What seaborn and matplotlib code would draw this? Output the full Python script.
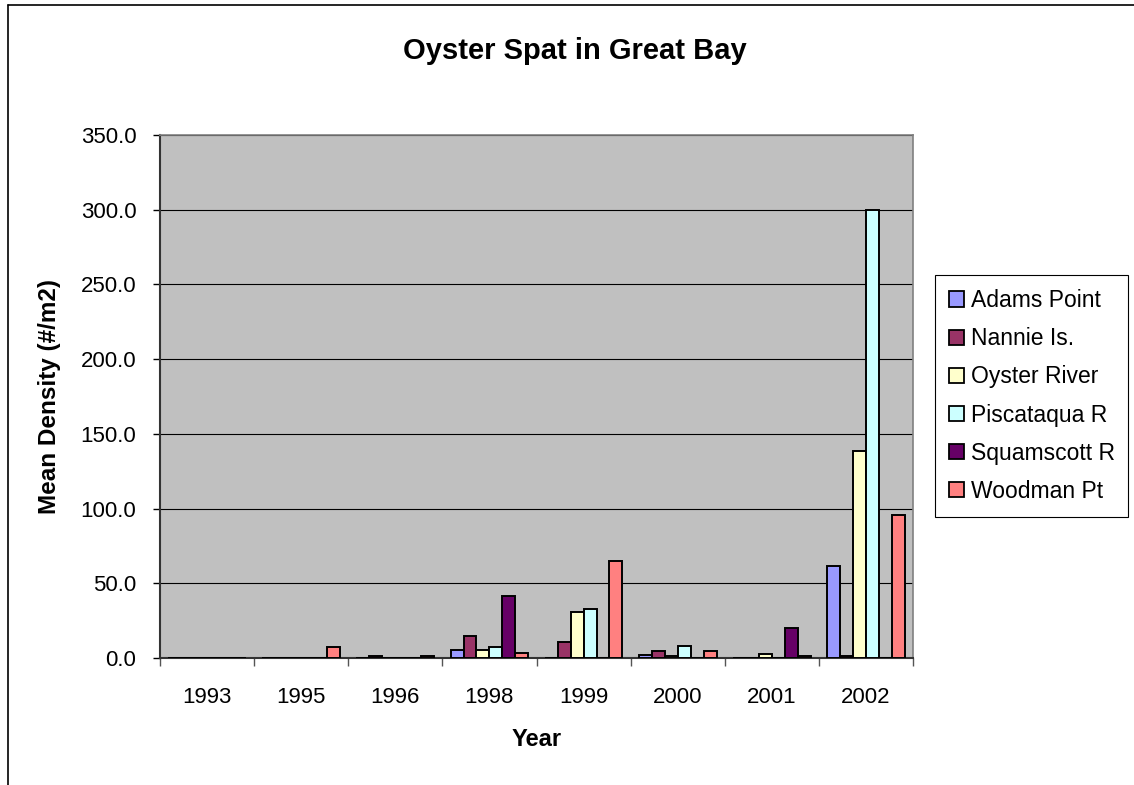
import matplotlib
matplotlib.use("Agg")
import matplotlib.pyplot as plt
from matplotlib.patches import Patch
from matplotlib.lines import Line2D
import seaborn as sns
import pandas as pd
import numpy as np

years = ['1993', '1995', '1996', '1998', '1999', '2000', '2001', '2002']
sites = ['Adams Point', 'Nannie Is.', 'Oyster River', 'Piscataqua R', 'Squamscott R', 'Woodman Pt']
adams_point = [0, 0, 0, 5.1, 0, 2.2, 0, 61.5]
nannie_is = [0, 0, 1.2, 14.5, 10.4, 4.9, 0, 1.2]
oyster_river = [0, 0, 0, 5.1, 30.5, 1.2, 2.5, 138.6]
piscataqua_r = [0, 0, 0, 7.4, 33.0, 7.8, 0, 300.0]
squamscott_r = [0, 0, 0, 41.2, 0, 0, 19.8, 0]
woodman_pt = [0, 7.4, 1.2, 3.5, 65.0, 5.0, 1.2, 95.6]
colors = ['#9999FF', '#993366', '#FFFFCC', '#CCFFFF', '#660066', '#FF8080']

series = [adams_point, nannie_is, oyster_river, piscataqua_r, squamscott_r, woodman_pt]
rows = []
for s, vals in zip(sites, series):
    for y, v in zip(years, vals):
        rows.append({'Year': y, 'Site': s, 'Density': v})
df = pd.DataFrame(rows)

sns.set_theme(style='white')
plt.rcParams['font.family'] = ['Liberation Sans', 'DejaVu Sans']
plt.rcParams['text.color'] = 'black'
plt.rcParams['axes.labelcolor'] = 'black'
plt.rcParams['xtick.color'] = 'black'
plt.rcParams['ytick.color'] = 'black'

W, H = 1134, 785
fig = plt.figure(figsize=(W / 100, H / 100), dpi=100)
ax = fig.add_axes([160 / W, 1 - 658 / H, (913 - 160) / W, (658 - 135) / H])
ax.set_facecolor('#C0C0C0')

sns.barplot(data=df, x='Year', y='Density', hue='Site', order=years, hue_order=sites,
            palette=colors, saturation=1, width=0.825, edgecolor='black', linewidth=1.4,
            ax=ax, legend=False, zorder=3)

ax.set_ylim(0, 350)
ax.set_xlim(-0.5, len(years) - 0.5)
ax.set_yticks(np.arange(0, 351, 50))
ax.set_yticklabels([f'{v:.1f}' for v in np.arange(0, 351, 50)])
ax.yaxis.grid(True, color='black', linewidth=0.8, zorder=0)
ax.set_axisbelow(True)

ax.tick_params(axis='y', which='major', direction='out', length=5, width=1, color='black',
               labelsize=16, labelcolor='black', pad=12, left=True)
ax.tick_params(axis='x', which='major', length=0, labelsize=16, labelcolor='black', pad=21)
ax.set_xticks(np.arange(-0.5, len(years), 1.0), minor=True)
ax.tick_params(axis='x', which='minor', direction='out', length=6, width=1, color='#555555', bottom=True)

for side in ['top', 'right']:
    ax.spines[side].set_color('#808080')
    ax.spines[side].set_linewidth(1.2)
for side in ['left', 'bottom']:
    ax.spines[side].set_color('#333333')
    ax.spines[side].set_linewidth(1.5)

ax.set_xlabel('Year', fontsize=17, fontweight='bold', labelpad=14, color='black')
ax.set_ylabel('Mean Density (#/m2)', fontsize=17.5, fontweight='bold', labelpad=14, color='black')
fig.text(575 / W, 1 - 51 / H, 'Oyster Spat in Great Bay', fontsize=21, fontweight='bold',
         ha='center', va='center', color='black')

handles = [Patch(facecolor=c, edgecolor='black', linewidth=1.3) for c in colors]
leg = fig.legend(handles, sites, loc='center left', bbox_to_anchor=(935 / W, 1 - 396 / H),
                 bbox_transform=fig.transFigure, fontsize=16.5, frameon=True, fancybox=False,
                 edgecolor='black', framealpha=1, handlelength=0.65, handleheight=0.65,
                 handletextpad=0.3, labelspacing=0.66, borderpad=0.6, borderaxespad=0)
leg.get_frame().set_linewidth(0.8)
for t in leg.get_texts():
    t.set_color('black')

# outer chart border
fig.add_artist(Line2D([8 / W, 1.0], [1 - 5 / H, 1 - 5 / H], transform=fig.transFigure,
                      color='black', linewidth=1.2))
fig.add_artist(Line2D([8 / W, 8 / W], [1 - 5 / H, 0.0], transform=fig.transFigure,
                      color='black', linewidth=1.2))

fig.savefig('out.png', dpi=100, facecolor='white')
